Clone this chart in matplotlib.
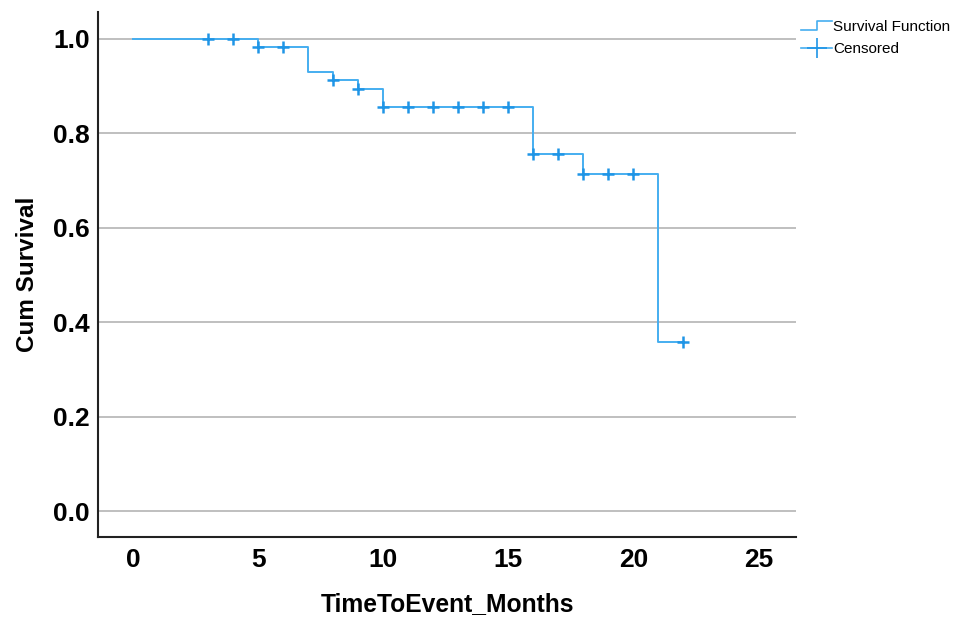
import numpy as np
import matplotlib
matplotlib.use("Agg")
from matplotlib import pyplot as plt
from matplotlib.legend_handler import HandlerBase
from matplotlib.lines import Line2D

# Kaplan-Meier step data (time, survival after step)
stepTimes = [0, 5, 7, 8, 9, 10, 16, 18, 21, 22]
stepSurvival = [1.0, 0.982, 0.930, 0.912, 0.893, 0.855, 0.756, 0.714, 0.357, 0.357]

# Censored observations
censorTimes = [3, 4, 5, 6, 8, 9, 10, 11, 12, 13, 14, 15, 16, 17, 18, 19, 20, 22]
censorSurvival = [1.0, 1.0, 0.982, 0.982, 0.912, 0.893, 0.855, 0.855, 0.855, 0.855,
                  0.855, 0.855, 0.756, 0.756, 0.714, 0.714, 0.714, 0.357]

xTicks = [0, 5, 10, 15, 20, 25]
yTicks = [0.0, 0.2, 0.4, 0.6, 0.8, 1.0]

lineColor = "#45aef0"
markColor = "#1f95e6"

plt.rcParams["font.family"] = ["Liberation Sans", "DejaVu Sans"]


class StepHandler(HandlerBase):
    def create_artists(self, legend, orig_handle, xdescent, ydescent,
                       width, height, fontsize, trans):
        xs = [0, width * 0.5, width * 0.5, width]
        ys = [height * 0.1, height * 0.1, height * 0.9, height * 0.9]
        line = Line2D(xs, ys, color=lineColor, lw=1.2, transform=trans)
        return [line]


fig = plt.figure(figsize=(9.57, 6.21), dpi=100)
ax = fig.add_axes([0.1024, 0.1353, 0.7294, 0.8454])

stepLine, = ax.step(stepTimes, stepSurvival, where="post", color=lineColor, lw=1.4, zorder=3)
censorMarks, = ax.plot(censorTimes, censorSurvival, linestyle="none", marker="+",
                       markersize=9, markeredgewidth=1.8, color=markColor, zorder=4)

ax.set_xlim(-1.4, 26.5)
ax.set_ylim(-0.055, 1.057)
ax.set_xticks(xTicks)
ax.set_yticks(yTicks)
ax.set_yticklabels([f"{v:.1f}" for v in yTicks])
ax.tick_params(length=0, labelsize=19, pad=6)
ax.tick_params(axis="x", pad=8)
for lbl in ax.get_xticklabels() + ax.get_yticklabels():
    lbl.set_fontweight("bold")

ax.grid(axis="y", color="#b4b4b4", lw=1.2)
ax.set_axisbelow(True)
for side in ["top", "right"]:
    ax.spines[side].set_visible(False)
for side in ["left", "bottom"]:
    ax.spines[side].set_linewidth(1.5)
    ax.spines[side].set_color("#222222")

ax.set_xlabel("TimeToEvent_Months", fontsize=17.7, fontweight="bold", labelpad=14)
ax.set_ylabel("Cum Survival", fontsize=17.5, fontweight="bold", labelpad=10)

censorHandle = Line2D([], [], color=lineColor, lw=1.2, marker="+", markersize=14,
                      markeredgewidth=1.2, markeredgecolor=markColor)
fig.legend([stepLine, censorHandle], ["Survival Function", "Censored"],
           handler_map={stepLine: StepHandler()},
           loc="upper left", bbox_to_anchor=(0.831, 0.978), frameon=False,
           fontsize=11, handlelength=2.0, handletextpad=0.1, labelspacing=0.55,
           borderaxespad=0)

fig.savefig("out.png", dpi=100)
